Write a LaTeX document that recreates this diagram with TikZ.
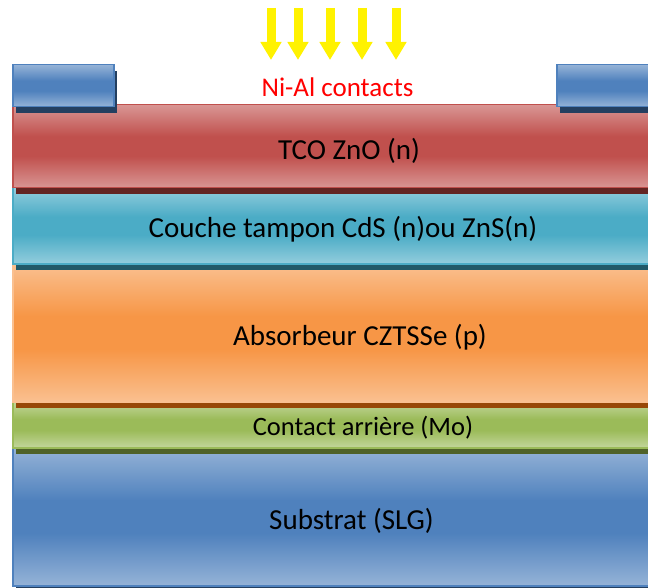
\documentclass[tikz,border=0pt]{standalone}
\usepackage{fontspec}
\setmainfont{Carlito}
\usetikzlibrary{arrows.meta,shadows}

% layer colours: light edge, dark centre, shadow
\definecolor{redL}{HTML}{D99694}
\definecolor{redM}{HTML}{C0504D}
\definecolor{redD}{HTML}{632523}
\definecolor{aquaL}{HTML}{93CDDD}
\definecolor{aquaM}{HTML}{4BACC6}
\definecolor{aquaD}{HTML}{215968}
\definecolor{orgL}{HTML}{FAC090}
\definecolor{orgM}{HTML}{F79646}
\definecolor{orgD}{HTML}{984807}
\definecolor{grnL}{HTML}{C3D69B}
\definecolor{grnM}{HTML}{9BBB59}
\definecolor{grnD}{HTML}{4F6228}
\definecolor{bluL}{HTML}{95B3D7}
\definecolor{bluM}{HTML}{4F81BD}
\definecolor{bluD}{HTML}{243F60}

% light - dark - light vertical bands
\pgfdeclareverticalshading{redband}{100bp}{color(0bp)=(redL); color(25bp)=(redL); color(44bp)=(redM); color(56bp)=(redM); color(75bp)=(redL); color(100bp)=(redL)}
\pgfdeclareverticalshading{aquaband}{100bp}{color(0bp)=(aquaL); color(25bp)=(aquaL); color(44bp)=(aquaM); color(56bp)=(aquaM); color(75bp)=(aquaL); color(100bp)=(aquaL)}
\pgfdeclareverticalshading{orgband}{100bp}{color(0bp)=(orgL); color(25bp)=(orgL); color(44bp)=(orgM); color(56bp)=(orgM); color(75bp)=(orgL); color(100bp)=(orgL)}
\pgfdeclareverticalshading{grnband}{100bp}{color(0bp)=(grnL); color(25bp)=(grnL); color(44bp)=(grnM); color(56bp)=(grnM); color(75bp)=(grnL); color(100bp)=(grnL)}
\pgfdeclareverticalshading{bluband}{100bp}{color(0bp)=(bluL); color(25bp)=(bluL); color(44bp)=(bluM); color(56bp)=(bluM); color(75bp)=(bluL); color(100bp)=(bluL)}

\tikzset{
  layer/.style 2 args={rectangle, anchor=north west, inner sep=0pt,
    minimum width=648pt, minimum height=#1, line width=1.5pt,
    shading=#2},
  shade off/.style={drop shadow={shadow xshift=3pt, shadow yshift=-6pt,
    fill=#1, opacity=1}},
  caption/.style={anchor=base, inner sep=0pt, text=black,
    font=\fontsize{29}{31}\selectfont},
  contactpad/.style={rectangle, anchor=north west, inner sep=0pt,
    minimum width=101pt, minimum height=42pt, line width=1.5pt,
    draw=bluM, shading=bluband, shade off=bluD},
  sunray/.style={draw=yellow, line width=9pt,
    -{Triangle[width=20pt,length=18pt]}},
}

\begin{document}
\begin{tikzpicture}[x=1pt,y=-1pt]
  \clip (0,0) rectangle (648,588);
  \fill[white] (0,0) rectangle (648,588);

  % stack, drawn from the bottom up so each shadow lies on the layer below
  \node[layer={138pt}{bluband}, draw=bluM, shade off=bluD]
    (substrat) at (12,447) {};
  \node[layer={46pt}{grnband}, draw=grnM, shade off=grnD]
    (mo) at (12,401) {};
  \node[layer={138pt}{orgband}, draw=orgL, shade off=orgD]
    (absorbeur) at (12,263) {};
  \node[layer={76pt}{aquaband}, draw=aquaM, shade off=aquaD]
    (tampon) at (12,187) {};
  \node[layer={83pt}{redband}, draw=redM, shade off=redD]
    (tco) at (12,104) {};

  % layer names
  \node[caption] (substratlbl) at (351.5,529) {Substrat (SLG)};
  \node[caption, font=\fontsize{26.5}{28}\selectfont] (molbl) at (363,435)
    {Contact arrière (Mo)};
  \node[caption] (absorbeurlbl) at (360,345) {Absorbeur CZTSSe (p)};
  \node[caption] (tamponlbl) at (343,237) {Couche tampon CdS (n)ou ZnS(n)};
  \node[caption] (tcolbl) at (349,160) {TCO ZnO (n)};

  % front contacts
  \node[contactpad] (cleft) at (12,64) {};
  \node[contactpad, minimum width=110pt] (cright) at (556,64) {};
  \node[caption, text=red, font=\fontsize{27}{29}\selectfont] (nial)
    at (337.5,97) {Ni-Al contacts};

  % incoming light
  \foreach \i/\x in {1/271, 2/298, 3/330, 4/362, 5/396} {
    \coordinate (ray\i s) at (\x,8);
    \coordinate (ray\i e) at (\x,60);
    \draw[sunray] (ray\i s) -- (ray\i e);
  }
\end{tikzpicture}
\end{document}
